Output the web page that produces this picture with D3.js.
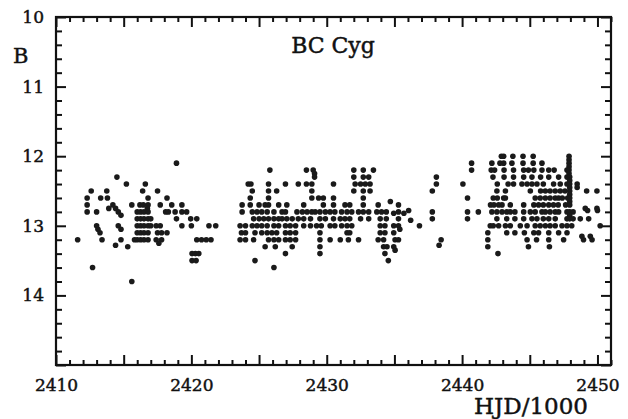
<!DOCTYPE html>
<html>
<head>
<meta charset="utf-8">
<script src="https://cdn.jsdelivr.net/npm/d3@7"></script>
<style>
    body { margin: 0; background: #fff; }
    svg text { font-family: "DejaVu Serif", serif; fill: #111; stroke: #111; stroke-width: 0.45px; }
</style>
</head>
<body>
<div id="chart"></div>
<script>
// B magnitude estimates, grouped by observing season.
// each row: [B magnitude, [HJD/1000 values]]
const season1 = [
    [12.1, [2418.9]],
    [12.3, [2414.5]],
    [12.4, [2415.2, 2416.6]],
    [12.5, [2412.6, 2413.75, 2416.4, 2417.5]],
    [12.6, [2412.3, 2413.3, 2413.8, 2416.8, 2418.2]],
    [12.7, [2412.3, 2414.2, 2415.6, 2416.2, 2416.45, 2416.8, 2417.7, 2418.55, 2419.3]],
    [12.75, [2413.9, 2414.4, 2416.75]],
    [12.8, [2412.3, 2413.0, 2414.6, 2416.0, 2416.25, 2416.5, 2416.8, 2418.1, 2418.3, 2418.8, 2419.3, 2419.65]],
    [12.85, [2414.8]],
    [12.9, [2416.0, 2416.25, 2416.5, 2416.8, 2417.0, 2418.9, 2419.95, 2420.4]],
    [13.0, [2413.0, 2414.6, 2416.0, 2416.25, 2416.5, 2416.8, 2417.0, 2417.4, 2417.7, 2419.3, 2420.0, 2421.3, 2421.8]],
    [13.05, [2413.1, 2414.8]],
    [13.1, [2413.25, 2416.0, 2416.25, 2416.5, 2416.8, 2417.5, 2417.8, 2418.2]],
    [13.2, [2411.6, 2413.4, 2414.8, 2415.8, 2416.0, 2416.25, 2416.5, 2416.8, 2417.4, 2417.8, 2420.4, 2420.75, 2421.1, 2421.45]],
    [13.25, [2417.6]],
    [13.28, [2414.4]],
    [13.3, [2415.3]],
    [13.4, [2420.05, 2420.3, 2420.55]],
    [13.5, [2420.05, 2420.35]],
    [13.6, [2412.7]],
    [13.8, [2415.6]]
];

const season2 = [
    [12.2, [2425.8, 2428.5, 2429.0, 2432.0, 2432.7, 2433.45]],
    [12.25, [2429.1]],
    [12.3, [2429.1, 2432.0, 2432.7, 2433.1]],
    [12.4, [2424.2, 2424.4, 2425.7, 2426.95, 2427.9, 2428.5, 2428.9, 2430.5, 2432.1, 2432.5, 2432.85, 2433.2]],
    [12.5, [2424.5, 2425.7, 2426.3, 2428.9, 2432.0, 2432.7, 2433.2]],
    [12.6, [2424.35, 2425.7, 2428.9, 2429.4, 2429.75, 2430.5, 2432.7]],
    [12.7, [2423.75, 2424.35, 2425.0, 2425.45, 2425.7, 2426.45, 2427.05, 2428.3, 2429.75, 2430.5, 2431.35, 2431.7, 2432.7, 2433.8]],
    [12.8, [2423.75, 2424.5, 2424.85, 2425.2, 2425.6, 2426.1, 2426.7, 2426.95, 2427.8, 2428.2, 2428.55, 2428.9, 2429.15, 2429.5, 2429.9, 2430.25, 2430.6, 2431.1, 2431.5, 2431.85, 2432.35, 2432.7, 2433.1, 2433.7, 2434.05, 2434.4]],
    [12.9, [2424.6, 2425.0, 2425.35, 2425.7, 2426.1, 2426.45, 2426.7, 2427.05, 2427.45, 2427.9, 2428.3, 2428.8, 2429.5, 2429.9, 2430.5, 2431.0, 2431.35, 2431.7, 2432.5, 2433.1, 2433.95, 2434.4]],
    [13.0, [2423.6, 2424.0, 2424.5, 2424.85, 2425.2, 2425.6, 2426.1, 2426.45, 2426.95, 2427.3, 2427.7, 2428.3, 2428.8, 2429.25, 2429.6, 2430.25, 2430.6, 2431.1, 2431.5, 2431.85, 2433.95, 2434.3]],
    [13.1, [2423.7, 2424.0, 2424.7, 2425.2, 2425.6, 2425.95, 2426.3, 2426.95, 2427.3, 2427.7, 2429.5, 2431.5, 2431.7, 2433.95, 2434.3]],
    [13.2, [2423.6, 2424.0, 2424.6, 2425.7, 2426.1, 2426.45, 2426.95, 2427.3, 2427.7, 2429.5, 2430.25, 2431.0, 2431.6, 2432.35, 2433.8, 2434.2]],
    [13.3, [2425.45, 2426.2, 2427.45, 2429.5, 2434.2, 2434.45]],
    [13.4, [2426.95, 2429.5, 2434.3]],
    [13.5, [2424.7, 2434.55]],
    [13.6, [2426.1]]
];

const season3 = [
    [12.65, [2434.7]],
    [12.7, [2435.3]],
    [12.78, [2436.05]],
    [12.8, [2435.3]],
    [12.82, [2434.95, 2435.7]],
    [12.9, [2435.3]],
    [12.92, [2436.2]],
    [13.0, [2434.95, 2435.3, 2436.85]],
    [13.05, [2435.4]],
    [13.1, [2434.95]],
    [13.2, [2435.05, 2435.3]],
    [13.3, [2434.95]],
    [13.35, [2435.05]]
];

const season4 = [
    [12.3, [2438.1]],
    [12.4, [2438.1]],
    [12.5, [2437.8]],
    [12.8, [2437.8]],
    [12.9, [2437.8]],
    [13.2, [2438.45]],
    [13.28, [2438.3]]
];

const season5 = [
    [12.1, [2440.7]],
    [12.2, [2440.7]],
    [12.4, [2440.06]],
    [12.6, [2440.4]],
    [12.8, [2440.4, 2441.2]],
    [12.9, [2440.4]]
];

const season6 = [
    [12.0, [2442.9, 2443.07, 2443.75, 2444.5, 2445.25, 2447.9]],
    [12.05, [2447.9]],
    [12.1, [2442.2, 2442.8, 2443.07, 2443.68, 2444.5, 2445.25, 2445.9, 2447.9]],
    [12.15, [2447.9]],
    [12.2, [2442.15, 2442.4, 2443.1, 2443.8, 2444.55, 2444.9, 2445.3, 2445.9, 2446.4, 2446.8, 2447.75, 2447.9]],
    [12.25, [2447.9]],
    [12.3, [2442.28, 2443.1, 2443.8, 2444.55, 2445.16, 2445.8, 2446.4, 2447.13, 2447.75, 2447.95]],
    [12.35, [2447.95]],
    [12.4, [2442.6, 2443.4, 2443.8, 2444.42, 2444.8, 2445.16, 2445.53, 2446.0, 2446.76, 2447.25, 2447.75, 2447.95, 2448.5]],
    [12.45, [2447.95, 2448.5]],
    [12.5, [2442.57, 2443.2, 2445.04, 2445.8, 2446.15, 2446.5, 2446.88, 2447.25, 2447.6, 2447.95, 2449.2, 2449.96]],
    [12.55, [2447.95]],
    [12.6, [2442.3, 2442.6, 2443.07, 2443.2, 2445.4, 2445.77, 2446.15, 2446.5, 2446.88, 2447.13, 2447.4, 2447.8, 2447.95]],
    [12.65, [2447.95]],
    [12.7, [2442.1, 2442.35, 2442.7, 2442.95, 2443.56, 2444.55, 2445.3, 2445.65, 2446.0, 2446.4, 2446.75, 2447.1, 2447.65, 2447.95]],
    [12.75, [2449.1, 2449.96]],
    [12.78, [2449.27, 2450.0]],
    [12.8, [2442.2, 2442.57, 2442.95, 2443.3, 2443.56, 2443.9, 2444.55, 2445.04, 2445.4, 2445.9, 2446.15, 2446.5, 2446.88, 2447.13, 2447.75, 2447.95, 2448.2]],
    [12.85, [2447.95]],
    [12.9, [2442.57, 2443.3, 2443.9, 2444.55, 2445.16, 2445.53, 2446.0, 2446.4, 2446.88, 2447.75, 2447.95, 2448.2, 2448.73, 2449.35]],
    [13.0, [2442.08, 2442.3, 2442.7, 2443.2, 2443.56, 2444.3, 2444.8, 2445.4, 2445.77, 2446.15, 2446.5, 2446.88, 2447.38, 2447.75, 2448.1, 2450.2]],
    [13.1, [2441.9, 2443.3, 2443.9, 2444.6, 2445.3, 2445.65, 2446.4, 2447.13, 2447.75]],
    [13.15, [2448.85, 2449.47]],
    [13.2, [2441.9, 2444.8, 2445.5, 2446.4, 2447.5, 2448.97, 2449.6]],
    [13.3, [2441.9, 2444.9, 2446.45]],
    [13.4, [2442.65]]
];

const seasons = [season1, season2, season3, season4, season5, season6];

const xTickValues = d3.range(2410, 2452, 1);   // every 1, labels every 10
const yTickValues = d3.range(10, 15.01, 0.2);  // every 0.2, labels every 1

const titleText = "BC Cyg";
const xLabel = "HJD/1000";
const yLabel = "B";

// flatten rows into points
const points = [];
seasons.forEach(season => {
    season.forEach(row => {
        row[1].forEach(t => points.push({hjd: t, mag: row[0]}));
    });
});

// svg setup
const margin = {top: 17, right: 17, bottom: 54, left: 56},
    width = 628 - margin.left - margin.right,
    height = 419 - margin.top - margin.bottom;

const svg = d3.select("#chart")
    .append("svg")
    .attr("width", 628)
    .attr("height", 419)
    .append("g")
    .attr("transform", "translate(" + margin.left + "," + margin.top + ")");

// scales
const x = d3.scaleLinear()
    .domain([2410, 2451])
    .range([0, width]);

const y = d3.scaleLinear()
    .domain([10, 15])
    .range([0, height]);

const isMajorX = d => Math.round(d) % 5 === 0;
const isLabelX = d => Math.round(d) % 10 === 0;
const isMajorY = d => Math.abs(d - Math.round(d)) < 1e-6;

// bottom axis
const xAxisBottom = svg.append("g")
    .attr("transform", "translate(0," + height + ")")
    .call(d3.axisBottom(x)
        .tickValues(xTickValues)
        .tickSizeOuter(0)
        .tickPadding(8)
        .tickFormat(d => isLabelX(d) ? d3.format("d")(d) : ""));
xAxisBottom.selectAll(".tick line")
    .attr("y2", d => isMajorX(d) ? -10 : -5);

// top axis
const xAxisTop = svg.append("g")
    .call(d3.axisTop(x)
        .tickValues(xTickValues)
        .tickSizeOuter(0)
        .tickFormat(""));
xAxisTop.selectAll(".tick line")
    .attr("y2", d => isMajorX(d) ? 10 : 5);

// left axis
const yAxisLeft = svg.append("g")
    .call(d3.axisLeft(y)
        .tickValues(yTickValues)
        .tickSizeOuter(0)
        .tickPadding(6)
        .tickFormat(d => isMajorY(d) && d < 14.99 ? d3.format("d")(d) : ""));
yAxisLeft.selectAll(".tick line")
    .attr("x2", d => isMajorY(d) ? 10 : 6);

// right axis
const yAxisRight = svg.append("g")
    .attr("transform", "translate(" + width + ",0)")
    .call(d3.axisRight(y)
        .tickValues(yTickValues)
        .tickSizeOuter(0)
        .tickFormat(""));
yAxisRight.selectAll(".tick line")
    .attr("x2", d => isMajorY(d) ? -10 : -6);

svg.selectAll(".domain").remove();
svg.selectAll(".tick line")
    .attr("stroke", "#111")
    .attr("stroke-width", 2);
svg.selectAll(".tick text")
    .attr("font-family", "DejaVu Serif")
    .attr("font-size", "17px")
    .attr("fill", "#111");

// frame
svg.append("rect")
    .attr("x", 0)
    .attr("y", 0)
    .attr("width", width)
    .attr("height", height)
    .attr("fill", "none")
    .attr("stroke", "#111")
    .attr("stroke-width", 2.2);

// points
svg.selectAll(".dot")
    .data(points)
    .enter()
    .append("circle")
    .attr("class", "dot")
    .attr("cx", d => x(d.hjd))
    .attr("cy", d => y(d.mag))
    .attr("r", 2.8)
    .attr("fill", "#1a1a1a");

// title and axis labels
svg.append("text")
    .attr("x", 333 - margin.left)
    .attr("y", 53.3 - margin.top)
    .attr("text-anchor", "middle")
    .attr("font-size", "22px")
    .text(titleText);

svg.append("text")
    .attr("x", 13 - margin.left)
    .attr("y", 63 - margin.top)
    .attr("font-size", "21px")
    .text(yLabel);

svg.append("text")
    .attr("x", 588 - margin.left)
    .attr("y", 414 - margin.top)
    .attr("text-anchor", "end")
    .attr("font-size", "23px")
    .text(xLabel);
</script>
</body>
</html>
